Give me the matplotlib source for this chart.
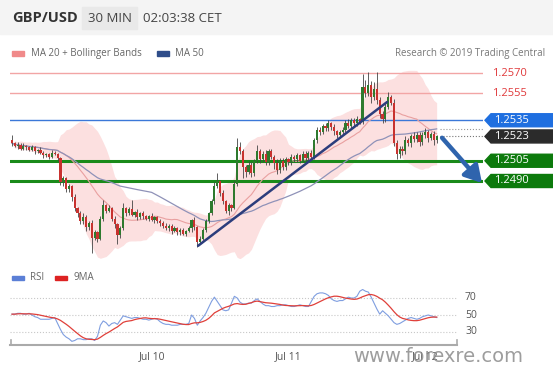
import numpy as np
import pandas as pd
import matplotlib
matplotlib.use('Agg')
import matplotlib.pyplot as plt
from matplotlib.patches import Polygon, Rectangle, FancyArrowPatch

plt.rcParams['font.family'] = ['Open Sans', 'DejaVu Sans']

# 30 min closes, GBP/USD, Jul 9 - Jul 12
closes = [
    1.2518, 1.2516, 1.2517, 1.2514, 1.2516, 1.2515, 1.2513, 1.2515, 1.2512, 1.2513,
    1.2511, 1.2509, 1.2510, 1.2508, 1.2511, 1.2510, 1.2507, 1.2489,
    1.2492, 1.2484, 1.2486, 1.2478,
    1.2470, 1.2466, 1.2460, 1.2463, 1.2456,
    1.2459, 1.2448, 1.2452, 1.2447,
    1.2462, 1.2472, 1.2468, 1.2470,
    1.2462, 1.2458, 1.2450, 1.2455, 1.2470,
    1.2466, 1.2469, 1.2465, 1.2467, 1.2463, 1.2466, 1.2464, 1.2462, 1.2464, 1.2461,
    1.2463, 1.2460, 1.2459,
    1.2457, 1.2455, 1.2457, 1.2453, 1.2455, 1.2452, 1.2454, 1.2451, 1.2453, 1.2455,
    1.2461, 1.2456, 1.2445, 1.2447,
    1.2454, 1.2460, 1.2466,
    1.2475, 1.2486, 1.2490,
    1.2481, 1.2475, 1.2468, 1.2472, 1.2470,
    1.2488, 1.2515, 1.2512,
    1.2500, 1.2497, 1.2502, 1.2496, 1.2505,
    1.2512, 1.2506, 1.2510, 1.2504, 1.2512, 1.2508,
    1.2503, 1.2498, 1.2505, 1.2500, 1.2506, 1.2504,
    1.2508, 1.2506, 1.2509, 1.2505, 1.2510, 1.2507, 1.2511, 1.2508,
    1.2520, 1.2528, 1.2526,
    1.2531, 1.2529, 1.2533, 1.2530,
    1.2527, 1.2524, 1.2526, 1.2528,
    1.2533, 1.2531, 1.2535, 1.2533, 1.2536, 1.2534,
    1.2560,
    1.2555, 1.2561, 1.2552, 1.2558, 1.2550,
    1.2540, 1.2536, 1.2545,
    1.2552, 1.2548,
    1.2518,
    1.2510, 1.2514, 1.2512,
    1.2520, 1.2518, 1.2523, 1.2521, 1.2524, 1.2519, 1.2524, 1.2526, 1.2522, 1.2525,
    1.2520, 1.2523,
]
first_open = 1.2520

# wick lengths in pips
up_wick = [
    4, 1, 2, 1, 2, 1, 1, 2, 1, 1,
    2, 1, 1, 1, 2, 1, 1, 1, 2, 1,
    2, 1, 2, 1, 2, 3, 2, 1, 2, 2,
    1, 2, 4, 1, 2, 1, 2, 1, 2, 4,
    1, 2, 7, 1, 2, 1, 2, 1, 1, 2,
    1, 1, 2, 1, 2, 1, 1, 2, 1, 1,
    1, 1, 2, 1, 2, 1, 2, 1, 2, 1,
    2, 3, 6, 1, 2, 1, 2, 1, 2, 7,
    4, 2, 2, 3, 2, 1, 5, 2, 2, 3,
    2, 2, 1, 3, 2, 2, 2, 1, 2, 1,
    2, 1, 2, 2, 1, 2, 2, 2, 2, 1,
    2, 2, 1, 2, 1, 2, 2, 2, 3, 2,
    2, 2, 1, 9, 5, 10, 3, 5, 13, 2,
    2, 3, 4, 2, 3, 2, 2, 2, 3, 2,
    2, 3, 2, 2, 2, 3, 2, 1, 2, 1,
]
lo_wick = [
    2, 1, 2, 1, 1, 2, 1, 1, 2, 1,
    1, 2, 1, 2, 1, 1, 2, 2, 3, 2,
    2, 3, 2, 3, 2, 2, 3, 2, 11, 2,
    2, 1, 2, 2, 1, 2, 3, 7, 2, 1,
    2, 1, 1, 2, 2, 1, 2, 1, 2, 1,
    2, 1, 2, 2, 1, 2, 2, 1, 2, 2,
    1, 2, 1, 3, 2, 4, 2, 1, 2, 1,
    1, 2, 1, 2, 2, 2, 3, 2, 1, 2,
    2, 8, 4, 2, 3, 2, 2, 3, 2, 2,
    2, 2, 4, 3, 2, 2, 2, 2, 2, 2,
    2, 2, 1, 2, 2, 1, 2, 2, 2, 1,
    2, 2, 2, 3, 2, 2, 2, 2, 2, 2,
    2, 2, 2, 2, 3, 2, 4, 2, 3, 3,
    3, 2, 2, 2, 2, 4, 3, 3, 2, 2,
    3, 2, 2, 3, 2, 2, 3, 2, 3, 2,
]

# RSI, one per candle
rsi_vals = [
    51, 51, 52, 52, 51, 51, 52, 50, 48, 47,
    45, 45, 45, 45, 46, 47, 40, 33, 27, 24,
    22, 19, 20, 22, 22, 21, 21, 22, 22, 20,
    25, 38, 43, 41, 37, 40, 41, 39, 44, 49,
    48, 47, 46, 47, 47, 46, 45, 45, 44, 45,
    46, 45, 42, 40, 39, 39, 38, 38, 38, 39,
    39, 39, 40, 50, 46, 38, 43, 47, 52, 59,
    66, 71, 66, 61, 56, 55, 56, 64, 72, 70,
    65, 63, 63, 64, 64, 67, 69, 66, 63, 61,
    61, 60, 60, 61, 61, 62, 62, 61, 60, 60,
    61, 62, 61, 60, 60, 66, 72, 75, 76, 76,
    75, 73, 69, 67, 66, 67, 67, 69, 71, 70,
    70, 72, 78, 80, 78, 77, 71, 64, 57, 51,
    55, 52, 49, 45, 41, 39, 40, 42, 44, 46,
    47, 46, 45, 46, 48, 49, 50, 49, 48, 47,
]

levels_red = [1.2570, 1.2555]
level_blue = 1.2535
level_last = 1.2523
levels_green = [1.2505, 1.2490]
trend_pts = [(65.3, 1.2442), (131.6, 1.25485)]
arrow_pts = [(150.9, 1.2522), (164.9, 1.24885)]
date_labels = ['Jul 10', 'Jul 11', 'Jul 12']
date_idx = [49, 97, 145]
rsi_ticks = [70, 50, 30]

W, H = 553, 375
fig = plt.figure(figsize=(W / 100, H / 100), dpi=100)
fig.patch.set_facecolor('white')


def fx(x, y):
    return x / W, 1 - y / H


def add_ax(l, t, r, b):
    return fig.add_axes([l / W, 1 - b / H, (r - l) / W, (b - t) / H])


# header band
fig.patches.append(Rectangle(fx(0, 34), 1, 34 / H, transform=fig.transFigure,
                             color='#f4f4f4', zorder=0))
fig.patches.append(Rectangle(fx(82, 29), 55 / W, 22 / H, transform=fig.transFigure,
                             color='#e9e9e9', zorder=1))
fig.text(*fx(12, 18), 'GBP/USD', fontsize=10.5, fontweight='bold', color='#333333', va='center')
fig.text(*fx(88, 18), '30 MIN', fontsize=9.5, color='#444444', va='center')
fig.text(*fx(143, 18), '02:03:38 CET', fontsize=9.5, color='#444444', va='center')

# legend row
fig.patches.append(Rectangle(fx(12, 55.5), 12 / W, 4 / H, transform=fig.transFigure, color='#f08a8a'))
fig.text(*fx(31, 53.5), 'MA 20 + Bollinger Bands', fontsize=7, color='#666666', va='center')
fig.patches.append(Rectangle(fx(157, 55.5), 12 / W, 4 / H, transform=fig.transFigure, color='#2f4d8a'))
fig.text(*fx(175, 53.5), 'MA 50', fontsize=7, color='#666666', va='center')
fig.text(*fx(545, 53.5), 'Research \u00a9 2019 Trading Central', fontsize=7, color='#777777',
         va='center', ha='right')

# data frames
c = pd.Series(closes)
o = pd.Series([first_open] + closes[:-1])
hi = np.maximum(o, c) + np.array(up_wick) / 1e4
lo = np.minimum(o, c) - np.array(lo_wick) / 1e4
idx = np.arange(len(closes))
ma20 = c.rolling(20, min_periods=1).mean()
sd20 = c.rolling(20, min_periods=2).std().fillna(0)
ma50 = c.rolling(50, min_periods=1).mean()

# main price axes
ax = add_ax(10, 62, 483, 258)
ax.set_xlim(-0.7, 165.26)
ax.set_ylim(1.243296, 1.257815)
ax.axis('off')

ax.fill_between(idx, ma20 - 2 * sd20, ma20 + 2 * sd20, color='#fbd3d3', alpha=0.7, lw=0, zorder=1)
for lv in levels_red:
    ax.axhline(lv, color='#f2a5a5', lw=1, zorder=2)
ax.axhline(level_blue, color='#3b78d8', lw=1, zorder=2)
for lv in levels_green:
    ax.axhline(lv, color='#1a8a1a', lw=2.2, zorder=2)
ax.plot(idx, ma20, color='#e9a0a0', lw=0.8, zorder=3)
ax.plot(idx, ma50, color='#8f92b8', lw=0.9, zorder=3)
ax.plot([idx[-1] + 1, 165.26], [ma50.iloc[-1]] * 2, color='#999999', lw=0.8, ls=':', zorder=3)
ax.plot([idx[-1] + 1, 165.26], [level_last] * 2, color='#777777', lw=0.8, ls=':', zorder=3)

up = c >= o
cols = np.where(up, '#2e7a2e', '#c8322f')
ax.vlines(idx, lo, hi, colors='#444444', lw=0.6, zorder=4)
body_bot = np.minimum(o, c)
body_h = np.maximum(np.abs(c - o), 0.00008)
ax.bar(idx, body_h, bottom=body_bot, width=0.75, color=cols, lw=0, zorder=5)

(tx0, ty0), (tx1, ty1) = trend_pts
ax.plot([tx0, tx1], [ty0, ty1], color='#2c3d7c', lw=1.8, zorder=6, solid_capstyle='round')
(ax0, ay0), (ax1, ay1) = arrow_pts
ax.add_patch(FancyArrowPatch((ax0, ay0), (ax1, ay1),
                             arrowstyle='-|>,head_length=0.55,head_width=0.32',
                             mutation_scale=18, color='#2f64ad', lw=3.2, zorder=7,
                             clip_on=False, shrinkA=0, shrinkB=0))

# right price tags
def tag(y, text, bg, fg):
    ypx = 73 + (1.2570 - y) * 13500
    if bg is None:
        fig.text(*fx(492, ypx), text, fontsize=8, color=fg, va='center')
        return
    pts = [fx(485, ypx), fx(491, ypx - 6.5), fx(553, ypx - 6.5), fx(553, ypx + 6.5), fx(491, ypx + 6.5)]
    fig.patches.append(Polygon(pts, closed=True, transform=fig.transFigure, color=bg))
    fig.text(*fx(494, ypx), text, fontsize=8, color=fg, va='center')


for lv in levels_red:
    tag(lv, f'{lv:.4f}', None, '#e0393b')
tag(level_blue, f'{level_blue:.4f}', '#1f6fe0', 'white')
tag(level_last, f'{level_last:.4f}', '#2b2b2b', 'white')
for lv in levels_green:
    tag(lv, f'{lv:.4f}', '#0c7a0c', 'white')

# RSI panel
rsi = pd.Series(rsi_vals, dtype=float)
rsi_ma = rsi.rolling(9, min_periods=1).mean()

fig.patches.append(Rectangle(fx(12, 280), 12 / W, 4 / H, transform=fig.transFigure, color='#5b7fd6'))
fig.text(*fx(30, 278), 'RSI', fontsize=7, color='#666666', va='center')
fig.patches.append(Rectangle(fx(55, 280), 12 / W, 4 / H, transform=fig.transFigure, color='#dd2222'))
fig.text(*fx(73, 278), '9MA', fontsize=7, color='#666666', va='center')

rax = add_ax(10, 285, 457, 345)
rax.set_xlim(-0.7, 156.1)
rax.set_ylim(14.7, 85.3)
rax.axis('off')
for t in rsi_ticks:
    rax.axhline(t, color='#c8c8c8', lw=0.8, ls=':')
    fig.text(*fx(465, 315 - (t - 50) * 0.85), str(t), fontsize=7.5, color='#555555', va='center')
rax.plot(idx, rsi, color='#7f9ee0', lw=0.8, clip_on=False)
rax.plot(idx, rsi_ma, color='#e0403a', lw=0.9, clip_on=False)

# bottom axis
fig.add_artist(plt.Line2D([10 / W, 457 / W], [1 - 345 / H] * 2, color='#aaaaaa', lw=1.5))
for xp in (10.5, 456.5):
    fig.add_artist(plt.Line2D([xp / W] * 2, [1 - 345 / H, 1 - 340 / H], color='#aaaaaa', lw=1.2))
for lab, i in zip(date_labels, date_idx):
    fig.text(*fx(12 + 2.85 * i, 357), lab, fontsize=7.5, color='#555555', ha='center', va='center')

fig.text(*fx(438, 356), 'www.forexre.com', fontsize=14, color='#8c8c8c', alpha=0.85,
         ha='center', va='center', family='DejaVu Sans')

fig.savefig('out.png', dpi=100)
